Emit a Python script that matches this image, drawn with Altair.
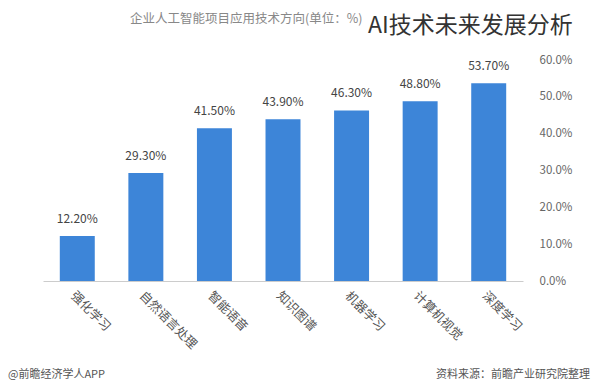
import altair as alt
import pandas as pd

categories = ["强化学习", "自然语言处理", "智能语音", "知识图谱", "机器学习", "计算机视觉", "深度学习"]
values = [12.2, 29.3, 41.5, 43.9, 46.3, 48.8, 53.7]
y_ticks = [0, 10, 20, 30, 40, 50, 60]
title_text = ["企业人工智能项目应用技术方向(单位：%)"]
overlay_text = ["AI技术未来发展分析"]
source_text = ["资料来源：前瞻产业研究院整理"]
brand_text = ["@前瞻经济学人APP"]

FONT = "Noto Sans CJK SC"

df = pd.DataFrame({"cat": categories, "val": values})
df["label"] = [f"{v:.2f}%" for v in values]

xenc = alt.X("cat:N", sort=categories, title=None,
             scale=alt.Scale(paddingInner=0.49, paddingOuter=0.245),
             axis=alt.Axis(labelAngle=45, labelAlign="left", labelBaseline="top",
                           labelColor="#555555", labelFontSize=12.5, labelFont=FONT,
                           labelPadding=8, ticks=False, domainColor="#cccccc",
                           labelLimit=200))
yenc = alt.Y("val:Q", title=None,
             scale=alt.Scale(domain=[0, 60]),
             axis=alt.Axis(orient="right", values=y_ticks, grid=False, ticks=False,
                           domain=False, labelExpr="format(datum.value, '.1f') + '%'",
                           labelColor="#666666", labelFontSize=11.5, labelFont=FONT,
                           labelPadding=16, labelOverlap=False, labelBound=False))

base = alt.Chart(df)
bars = base.mark_bar(color="#3d85d8").encode(x=xenc, y=yenc)
labels = base.mark_text(dy=-17, fontSize=12, color="#444444", font=FONT).encode(
    x=xenc, y=yenc, text="label:N")

def txt(lst, x, y, size, color, align="left"):
    return alt.Chart(pd.DataFrame({"t": lst})).mark_text(
        fontSize=size, color=color, font=FONT, align=align, baseline="middle"
    ).encode(text="t:N", x=alt.value(x), y=alt.value(y))

title = txt(title_text, 87, -41, 12.5, "#888888")
overlay = txt(overlay_text, 325, -34, 23, "#333333")
source = txt(source_text, 547, 315, 11, "#555555", align="right")
brand = txt(brand_text, -35, 315, 11, "#555555")

chart = alt.layer(bars, labels, title, overlay, source, brand).properties(
    width=480, height=221,
    padding={"left": 35, "top": 52, "right": 69, "bottom": 100},
    autosize=alt.AutoSizeParams(type="none"),
    background="white",
).configure_view(stroke=None)

chart.save("out.html", embed_options={"renderer": "svg", "actions": False})
